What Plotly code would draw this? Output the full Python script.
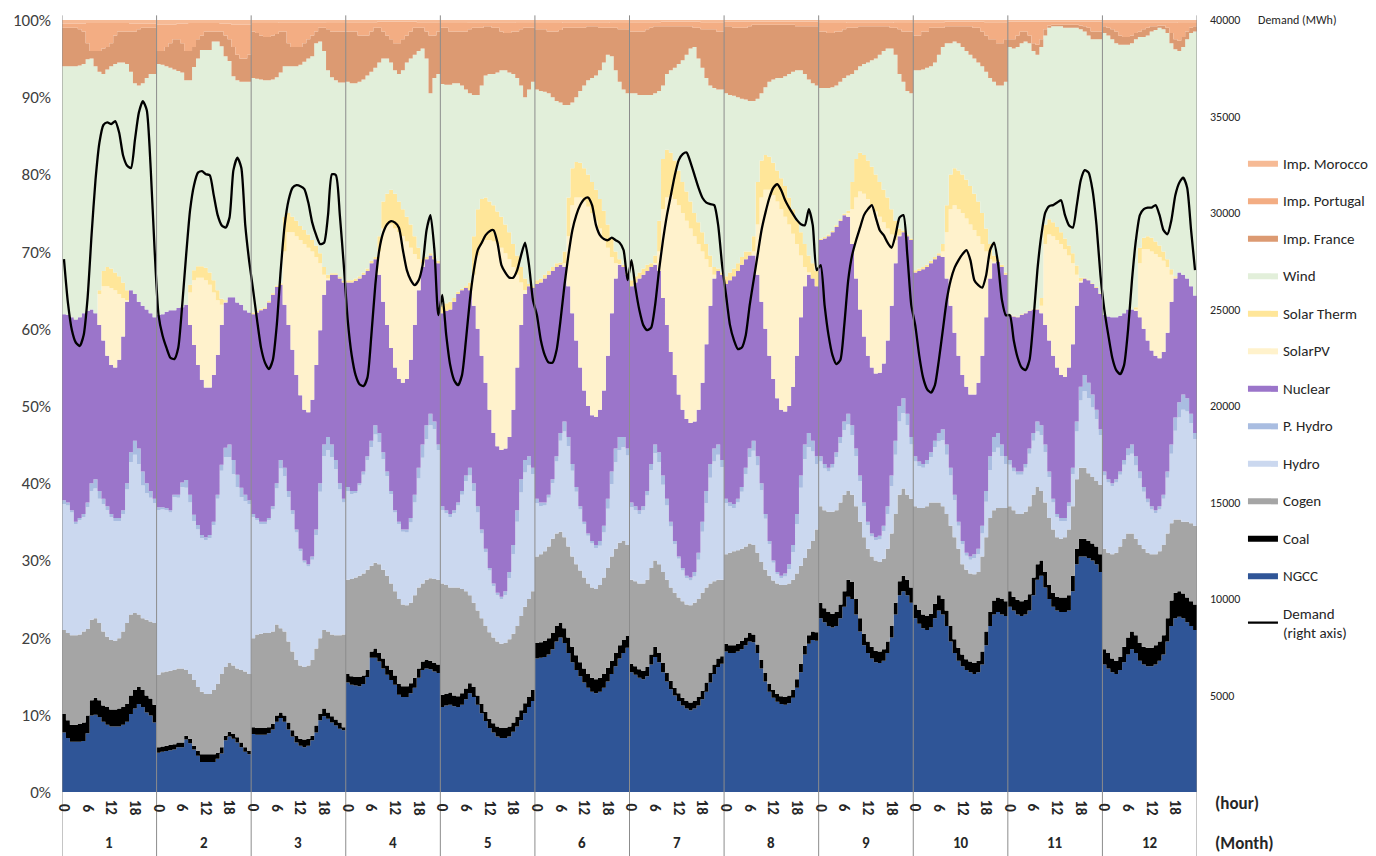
import numpy as np
import plotly.graph_objects as go

months = list(range(1, 13))
hours = list(range(24))
hour_ticks = [0, 6, 12, 18]
pct_ticks = list(range(0, 101, 10))
demand_ticks = list(range(5000, 40001, 5000))

# cumulative tops (% of generation), one list of 24 hours per month
ngcc_top = [
 [7.7,7.0,6.5,6.5,6.5,6.6,7.6,9.9,10.0,9.7,9.1,8.7,8.5,8.5,8.5,8.7,9.1,10.1,10.8,11.4,11.0,10.3,9.9,9.0],
 [5.1,5.2,5.3,5.4,5.5,5.8,5.8,6.8,6.3,5.5,4.7,3.9,3.9,3.9,3.9,4.3,5.0,6.7,7.2,6.9,6.4,5.8,5.2,4.9],
 [7.5,7.4,7.4,7.4,7.6,8.1,9.1,9.6,9.1,8.1,7.2,6.4,6.0,5.8,6.0,6.7,7.7,9.3,9.8,9.5,9.0,8.6,8.2,8.0],
 [14.2,13.9,13.8,13.7,14.0,14.9,17.4,17.4,16.9,16.0,15.2,14.5,13.9,12.6,12.3,12.3,12.8,13.5,14.8,15.8,16.0,15.9,15.6,15.4],
 [11.0,11.2,11.3,11.1,11.0,11.3,12.0,12.8,12.3,11.3,10.2,9.2,8.3,7.7,7.2,7.0,7.0,7.2,7.8,8.5,9.3,10.2,11.0,11.8],
 [17.3,17.4,17.5,17.8,18.5,19.5,20.0,19.3,18.0,16.8,15.8,15.0,14.2,13.5,13.0,12.8,13.0,13.5,14.3,15.3,16.3,17.3,18.0,18.7],
 [15.5,15.2,14.8,14.6,15.0,16.5,17.5,16.8,15.5,14.3,13.3,12.5,11.8,11.2,10.8,10.6,10.8,11.2,12.0,13.0,14.2,15.3,16.2,16.6],
 [18.2,18.0,18.0,18.2,18.5,19.0,19.5,19.4,18.0,16.0,14.3,13.0,12.2,11.7,11.4,11.3,11.5,12.2,13.5,15.5,17.8,19.2,19.7,19.6],
 [22.5,22.0,21.5,21.3,21.5,22.5,24.0,25.3,25.0,23.0,20.8,19.0,18.0,17.3,16.8,16.7,17.0,18.0,20.0,23.0,25.5,26.0,25.5,24.5],
 [22.5,21.8,21.2,21.0,21.3,22.5,23.5,23.0,21.5,19.5,18.0,17.0,16.3,15.8,15.5,15.3,15.5,16.5,19.0,21.5,23.0,23.3,23.0,22.8],
 [24.0,23.5,23.0,22.8,23.0,23.5,25.5,27.5,28.0,26.5,25.0,24.0,23.5,23.3,23.3,23.5,26.0,29.5,30.5,30.5,30.3,30.0,29.5,28.5],
 [16.5,16.0,15.5,15.3,15.8,16.8,17.8,18.5,18.0,17.0,16.5,16.3,16.3,16.5,17.0,17.8,19.5,21.5,22.5,22.7,22.5,22.0,21.5,21.0],
]
coal_top = [
 [10.1,9.3,8.7,8.7,8.8,9.0,9.9,11.9,12.2,11.9,11.2,11.0,10.7,10.7,10.8,11.0,11.4,12.5,13.2,13.6,13.2,12.5,12.1,11.3],
 [5.8,5.9,6.0,6.1,6.2,6.4,6.4,7.3,6.9,6.0,5.3,4.9,4.9,4.9,4.9,5.1,5.8,7.3,7.8,7.5,7.1,6.4,5.8,5.3],
 [8.4,8.3,8.3,8.3,8.4,8.8,9.9,10.3,9.9,9.0,8.0,7.3,6.9,6.8,6.9,7.3,8.6,10.1,10.8,10.3,9.8,9.4,9.0,8.4],
 [15.3,15.0,14.9,14.9,15.1,15.8,18.2,18.6,18.0,17.3,16.4,15.8,15.1,14.0,13.7,13.7,14.1,14.8,16.0,16.9,17.1,17.0,16.7,16.5],
 [12.6,12.7,12.9,12.5,12.4,12.8,13.4,14.1,13.6,12.5,11.4,10.4,9.5,8.9,8.5,8.3,8.3,8.5,9.0,9.7,10.6,11.5,12.3,13.2],
 [19.3,19.4,19.6,19.9,20.6,21.5,21.9,21.2,20.0,18.8,17.7,16.8,16.0,15.3,14.8,14.6,14.8,15.3,16.1,17.0,18.0,19.0,19.7,20.2],
 [16.6,16.3,15.9,15.7,16.2,17.8,18.8,18.0,16.7,15.4,14.4,13.5,12.8,12.2,11.8,11.6,11.8,12.3,13.1,14.2,15.4,16.5,17.3,17.6],
 [19.2,19.0,19.0,19.2,19.6,20.0,20.6,20.4,19.1,17.1,15.4,14.0,13.2,12.7,12.4,12.3,12.5,13.2,14.6,16.6,18.9,20.3,20.8,20.7],
 [24.5,23.8,23.3,23.1,23.3,24.3,26.0,27.5,27.2,25.0,22.5,20.5,19.5,18.8,18.3,18.2,18.5,19.5,21.5,24.5,27.3,28.0,27.5,26.5],
 [24.3,23.6,23.0,22.8,23.1,24.4,25.5,25.0,23.5,21.5,19.8,18.7,17.8,17.2,16.9,16.7,17.0,18.2,20.8,23.3,24.8,25.2,25.0,24.7],
 [26.0,25.3,24.9,24.7,24.9,25.6,27.8,29.5,30.0,28.5,26.8,25.8,25.3,25.2,25.2,25.5,28.0,31.5,32.8,32.8,32.5,32.2,31.8,30.8],
 [18.5,18.0,17.3,17.0,17.5,18.8,20.0,20.8,20.3,19.3,18.8,18.7,18.7,19.0,19.5,20.3,22.5,24.8,25.8,26.0,25.7,25.2,24.7,24.3],
]
cogen_top = [
 [21.0,20.6,20.3,20.3,20.4,20.8,21.1,22.3,22.5,21.9,20.8,20.1,19.7,19.6,19.9,20.8,21.9,23.0,23.2,23.0,22.5,22.3,22.1,21.9],
 [15.2,15.5,15.6,15.7,15.8,16.0,16.0,15.8,15.3,14.5,13.6,13.0,12.7,12.7,13.2,14.0,15.3,16.2,16.7,16.4,16.0,15.8,15.6,15.3],
 [19.9,20.4,20.5,20.6,20.6,20.8,21.7,21.2,20.8,19.5,18.2,17.1,16.4,16.2,16.4,17.1,18.6,19.9,21.0,20.8,20.4,20.3,20.3,20.4],
 [27.5,27.6,27.8,28.0,28.3,28.8,29.3,29.7,29.5,28.8,28.0,27.0,26.0,25.0,24.3,24.2,24.5,25.5,26.5,27.0,27.5,27.7,27.6,27.5],
 [27.0,26.8,26.5,26.5,26.5,26.3,26.0,25.5,24.5,23.5,22.5,21.5,20.7,20.0,19.5,19.2,19.3,19.8,20.5,21.5,22.8,24.0,25.0,26.0],
 [30.5,30.8,31.2,31.8,32.8,33.5,33.7,33.0,31.8,30.5,29.5,28.7,27.8,27.0,26.5,26.3,26.8,27.8,29.0,30.5,31.5,32.3,32.5,32.0],
 [27.5,27.3,27.0,27.0,27.5,29.0,30.0,29.5,28.5,27.5,26.5,25.8,25.2,24.7,24.3,24.2,24.5,25.0,25.8,26.5,27.0,27.3,27.5,27.5],
 [30.8,31.0,31.2,31.3,31.5,31.8,32.2,32.0,31.0,29.8,28.8,28.0,27.4,27.0,26.8,26.8,27.0,27.5,28.3,29.3,30.3,31.5,32.5,34.0],
 [37.0,36.5,36.3,36.3,36.5,37.5,38.5,39.0,38.5,37.0,35.0,33.0,31.5,30.5,30.0,29.8,30.2,31.5,33.5,36.0,38.5,39.3,38.5,38.0],
 [37.0,36.8,36.8,37.0,37.5,37.5,37.5,37.0,36.0,34.5,33.0,31.5,29.5,28.8,28.3,28.2,28.5,30.5,33.0,35.5,36.5,36.8,36.8,36.8],
 [37.0,36.5,36.0,36.0,36.3,37.0,38.5,39.5,39.0,37.5,35.5,34.0,33.0,32.8,33.0,34.0,37.0,40.5,42.0,42.0,41.3,40.8,40.3,39.8],
 [31.5,31.0,30.8,31.0,31.8,32.8,33.5,33.5,32.8,32.0,31.5,31.0,30.8,30.8,31.2,32.0,33.5,34.8,35.3,35.3,35.0,35.0,34.8,34.5],
]
phydro_top = [
 [37.8,37.5,36.5,35.0,35.5,36.0,37.5,40.0,40.5,39.0,38.0,37.0,36.0,35.5,35.5,36.5,40.0,44.0,45.5,44.5,41.5,40.0,39.0,38.0],
 [36.9,36.9,36.8,36.5,38.5,38.5,40.1,40.4,38.5,35.9,34.6,33.3,33.0,33.3,35.0,38.5,42.4,44.6,45.0,43.0,41.1,39.4,38.5,37.8],
 [36.0,35.5,35.0,35.0,35.5,37.0,40.0,43.0,42.0,39.0,36.5,34.0,31.5,30.0,29.5,30.5,34.0,40.0,45.0,46.0,45.0,43.0,40.0,38.0],
 [39.5,39.0,39.0,40.0,41.5,43.5,45.5,47.5,46.5,44.0,41.5,39.0,36.5,35.0,34.0,34.0,35.5,38.5,42.0,45.0,47.5,49.0,48.0,45.0],
 [37.0,36.5,36.0,36.5,37.5,39.0,41.0,42.0,40.0,37.0,34.0,31.5,29.0,27.0,25.8,25.3,26.0,28.5,32.0,36.5,40.5,43.0,43.5,42.0],
 [38.0,37.5,37.5,38.5,40.5,43.5,46.5,48.0,46.0,42.5,39.5,37.0,35.0,33.5,32.5,32.0,32.5,34.5,38.0,41.5,44.5,46.0,46.0,44.5],
 [37.5,37.0,36.5,37.0,39.0,42.5,45.0,44.0,41.0,38.0,35.0,32.5,30.5,29.0,28.0,27.8,28.5,31.0,35.0,39.0,42.5,44.5,45.0,43.0],
 [38.0,37.5,37.3,38.0,39.5,42.0,44.5,45.5,43.5,40.0,36.0,32.5,30.0,28.5,28.0,28.3,29.5,32.0,36.0,41.0,45.0,46.5,45.5,43.5],
 [43.5,42.5,42.0,42.5,44.0,46.0,48.0,49.0,47.5,44.5,41.0,37.5,35.0,33.5,33.0,33.2,34.5,37.0,41.0,45.5,50.0,51.0,49.0,46.0],
 [43.5,42.8,42.5,43.0,44.0,45.5,46.5,47.0,45.0,42.0,38.5,35.0,32.5,31.0,30.5,30.8,31.5,34.5,39.0,43.5,46.0,46.5,45.0,43.5],
 [43.0,42.0,41.5,41.5,42.5,44.5,46.5,48.0,47.5,45.0,41.5,38.0,36.0,35.5,35.5,37.5,42.0,48.0,52.5,54.0,53.0,51.5,49.5,47.0],
 [41.5,40.5,40.0,40.5,41.5,43.0,44.5,45.0,43.5,41.5,39.5,38.0,37.0,36.5,37.0,38.5,41.5,45.0,48.5,50.5,51.5,51.0,49.0,46.5],
]
# P. Hydro share (percentage points) sitting on top of Hydro
phydro_share = [
 [0.5,0.4,0.3,0.3,0.3,0.4,0.6,1.0,1.2,1.0,0.7,0.5,0.4,0.4,0.4,0.5,0.8,1.3,1.8,2.0,1.8,1.3,0.9,0.6],
 [0.4,0.3,0.3,0.3,0.3,0.4,0.6,1.0,1.0,0.8,0.6,0.4,0.4,0.4,0.4,0.5,0.8,1.2,1.6,1.8,1.6,1.2,0.8,0.5],
 [0.4,0.3,0.3,0.3,0.3,0.4,0.7,1.1,1.1,0.8,0.5,0.4,0.3,0.3,0.3,0.4,0.7,1.1,1.5,1.7,1.6,1.2,0.8,0.5],
 [0.5,0.4,0.3,0.3,0.4,0.5,0.8,1.2,1.2,0.9,0.6,0.4,0.3,0.3,0.3,0.4,0.6,1.0,1.4,1.7,1.8,1.5,1.0,0.7],
 [0.5,0.4,0.4,0.4,0.4,0.5,0.7,1.0,1.0,0.8,0.5,0.4,0.3,0.3,0.3,0.3,0.5,0.8,1.2,1.5,1.7,1.6,1.2,0.8],
 [0.6,0.5,0.4,0.4,0.5,0.7,1.0,1.3,1.2,0.9,0.6,0.4,0.3,0.3,0.3,0.4,0.6,0.9,1.3,1.6,1.8,1.7,1.3,0.9],
 [0.6,0.5,0.5,0.5,0.6,0.8,1.1,1.3,1.2,0.9,0.6,0.4,0.3,0.3,0.3,0.4,0.6,0.9,1.3,1.6,1.8,1.7,1.3,0.9],
 [0.6,0.5,0.5,0.5,0.6,0.8,1.1,1.3,1.2,0.9,0.6,0.4,0.3,0.3,0.3,0.4,0.6,0.9,1.3,1.6,1.9,1.8,1.4,1.0],
 [0.7,0.6,0.5,0.5,0.6,0.8,1.1,1.4,1.3,1.0,0.7,0.5,0.4,0.4,0.4,0.5,0.7,1.0,1.4,1.8,2.0,1.9,1.5,1.0],
 [0.7,0.6,0.5,0.5,0.6,0.8,1.1,1.4,1.3,1.0,0.7,0.5,0.4,0.4,0.4,0.5,0.7,1.0,1.4,1.8,2.0,1.9,1.5,1.0],
 [0.6,0.5,0.4,0.4,0.5,0.7,1.0,1.3,1.3,1.0,0.7,0.5,0.4,0.4,0.4,0.5,0.8,1.3,1.8,2.1,2.0,1.7,1.2,0.8],
 [0.5,0.4,0.4,0.4,0.4,0.6,0.9,1.2,1.2,0.9,0.6,0.5,0.4,0.4,0.4,0.5,0.8,1.2,1.7,2.0,2.0,1.7,1.2,0.8],
]
nuclear_top = [
 [61.9,61.8,61.5,61.2,61.5,62.0,62.3,62.5,62.0,60.5,58.5,56.5,55.3,55.0,56.0,59.0,63.5,65.0,64.5,63.5,63.0,62.5,62.0,61.5],
 [61.8,61.9,62.2,62.4,62.4,62.7,62.8,63.1,60.5,57.9,55.3,53.4,52.4,52.4,54.0,56.6,60.5,63.4,64.1,64.1,63.4,63.1,62.4,62.1],
 [61.9,62.1,62.4,62.6,63.4,64.4,65.4,65.7,63.1,60.5,57.3,54.0,51.4,49.5,49.2,50.8,55.3,59.8,64.4,66.3,67.0,67.0,66.5,66.0],
 [66.0,66.0,66.2,66.5,67.0,67.5,68.5,69.0,67.0,63.5,60.5,57.5,55.0,53.5,53.0,53.5,56.0,60.5,65.0,68.0,69.0,69.5,69.0,68.5],
 [62.0,62.3,62.5,63.5,64.5,65.0,65.3,65.0,63.0,60.0,56.5,53.0,49.5,46.5,44.8,44.3,44.5,46.0,49.5,55.0,60.5,64.5,65.5,65.3],
 [65.8,66.0,66.5,67.0,67.5,68.0,68.3,68.0,65.5,62.0,58.5,55.0,52.0,50.0,48.8,48.6,49.5,52.0,56.5,62.0,66.5,68.3,68.0,67.0],
 [65.5,66.0,66.5,67.0,67.5,68.0,68.3,67.5,64.0,60.5,57.0,54.0,51.5,49.5,48.3,47.8,48.0,49.5,53.0,58.0,63.0,66.5,67.5,67.0],
 [65.8,66.3,66.8,67.5,68.3,69.0,69.5,69.5,67.0,63.5,60.0,56.5,53.5,51.0,49.5,49.3,50.0,52.5,56.5,61.5,65.5,67.0,66.5,65.5],
 [71.5,71.7,72.0,72.5,73.2,74.0,74.7,74.5,71.0,66.5,62.5,59.0,56.5,55.0,54.2,54.3,55.5,58.5,63.0,68.5,72.0,72.5,72.0,71.5],
 [67.3,67.5,67.7,68.0,68.5,69.0,69.5,69.3,66.5,63.0,59.5,56.5,54.0,52.5,51.5,51.5,53.0,56.5,61.5,66.5,68.5,68.7,68.0,67.0],
 [61.8,61.6,61.5,61.8,62.0,62.3,62.5,62.5,62.0,60.5,58.5,56.5,55.0,54.0,53.8,55.0,58.0,63.0,66.0,66.5,66.3,65.8,65.3,64.5],
 [61.8,61.6,61.5,61.5,61.7,62.0,62.5,62.5,62.3,61.5,60.0,58.5,57.2,56.5,56.2,57.0,59.5,63.5,66.5,67.3,67.0,66.5,65.5,64.3],
]
# solar shares (percentage points)
pv_share = [
 [0,0,0,0,0,0,0,0,0,4.0,7.0,9.0,10.0,10.0,8.5,5.0,0.2,0,0,0,0,0,0,0],
 [0,0,0,0,0,0,0,0,4.2,8.4,11.3,13.2,13.9,13.3,10.7,7.1,2.6,0.1,0,0,0,0,0,0],
 [0,0,0,0,0,0,0,0,6.9,12.0,15.2,18.0,20.1,21.5,21.3,19.2,14.0,8.7,2.6,0.2,0,0,0,0],
 [0,0,0,0,0,0,0,0,3.0,9.5,13.0,16.0,18.0,19.0,19.0,17.8,14.5,9.2,4.0,0.5,0,0,0,0],
 [0,0,0,0,0,0,0,0,4.0,9.5,14.5,18.5,22.0,24.8,26.2,26.2,25.3,23.0,18.5,12.0,5.5,0.5,0,0],
 [0,0,0,0,0,0,0,0.5,6.5,14.0,18.5,22.0,24.5,25.8,26.2,25.4,23.5,19.8,14.0,7.3,2.0,0.1,0,0],
 [0,0,0,0,0,0,0.2,2.5,11.5,16.5,20.3,22.8,24.5,25.5,25.7,25.2,24.0,21.5,17.0,11.0,5.0,0.5,0,0],
 [0,0,0,0,0,0,0,0.5,6.5,13.5,18.0,21.5,23.8,25.5,26.0,25.2,23.5,19.8,14.5,8.0,2.5,0.3,0,0],
 [0,0,0,0,0,0,0,0.5,4.5,10.5,15.3,18.5,20.3,21.0,21.0,20.2,18.3,14.5,9.2,3.0,0.1,0,0,0],
 [0,0,0,0,0,0,0,0.7,6.0,12.5,16.5,19.0,21.0,21.8,22.0,21.3,19.0,14.5,8.5,2.5,0.2,0,0,0],
 [0,0,0,0,0,0,0,0,1.0,10.5,13.7,15.5,16.5,17.0,16.5,14.5,10.5,4.0,0.2,0,0,0,0,0],
 [0,0,0,0,0,0,0,0,0.2,7.0,10.3,11.8,12.8,13.2,13.1,11.8,8.5,3.5,0.1,0,0,0,0,0],
]
st_share = [
 [0,0,0,0,0,0,0,0,0,0.5,2.0,2.5,2.5,2.3,2.3,2.0,1.3,0,0,0,0,0,0,0],
 [0,0,0,0,0,0,0,0,1.0,1.3,1.5,1.5,1.6,1.6,1.6,1.3,0.8,0.2,0,0,0,0,0,0],
 [0.2,0.2,0.2,0.2,0.2,0.2,0.2,0.2,4.5,2.5,2.0,2.0,1.8,1.8,1.7,1.5,1.5,1.3,1.0,0.5,0.2,0.2,0.2,0.2],
 [0.3,0.3,0.3,0.3,0.3,0.3,0.3,0.3,2.0,3.5,4.0,4.5,4.5,4.0,3.5,3.2,3.0,2.3,1.5,0.5,0.3,0.3,0.3,0.3],
 [1.0,1.0,1.0,0.5,0.3,0.2,0.2,1.0,5.0,6.0,5.8,5.5,5.0,4.7,4.2,4.0,3.7,3.5,3.0,2.5,2.0,1.5,0.3,0.2],
 [0.5,0.5,0.5,0.5,0.5,0.5,0.3,1.5,5.0,4.8,4.6,4.5,4.3,4.2,4.0,4.0,3.8,3.5,3.0,2.5,1.5,0.6,0.3,0.3],
 [0.8,0.8,0.8,0.8,0.8,0.5,1.0,4.0,6.5,6.2,5.5,5.0,4.5,4.0,3.8,3.5,3.0,2.8,2.5,2.0,1.5,1.0,0.3,0.3],
 [1.0,1.0,1.0,1.0,1.0,1.0,0.5,2.0,5.5,4.8,4.5,4.3,4.2,4.0,4.0,4.0,3.5,3.2,3.0,3.0,3.0,2.2,2.0,2.0],
 [0.2,0.2,0.2,0.2,0.2,0.2,0.2,0.3,3.5,5.0,5.0,5.0,5.0,5.0,4.8,4.5,4.2,4.0,3.3,2.5,0.9,0.2,0.2,0.2],
 [0.3,0.3,0.3,0.3,0.3,0.3,0.3,1.0,3.5,4.5,4.8,5.0,5.0,5.0,5.0,4.7,4.5,4.0,3.0,2.0,0.8,0.3,0.3,0.3],
 [0.1,0.1,0.1,0.1,0.1,0.1,0.1,0.1,1.0,2.5,2.0,1.8,1.7,1.5,1.4,1.3,1.3,1.2,0.4,0.1,0.1,0.1,0.1,0.1],
 [0,0,0,0,0,0,0,0,0.3,2.0,1.5,1.7,1.8,1.6,1.5,1.2,1.0,0.7,0.2,0,0,0,0,0],
]
wind_top = [
 [94.0,94.0,94.0,94.0,94.1,94.3,94.9,95.0,94.0,93.3,93.0,93.6,94.0,94.3,94.5,94.5,94.3,93.3,91.8,91.5,91.8,92.5,93.0,93.0],
 [94.3,94.2,94.0,93.8,93.6,93.4,93.2,92.2,92.2,93.9,95.0,96.1,96.1,96.1,97.2,97.2,96.6,95.3,94.7,92.7,92.2,92.0,92.0,92.0],
 [92.5,92.4,92.3,92.2,92.2,92.3,92.6,93.2,94.0,94.0,94.0,94.0,94.2,94.6,95.0,95.3,97.0,97.2,96.0,93.5,92.6,92.2,91.9,91.9],
 [92.0,91.8,91.8,92.0,92.3,92.8,93.3,93.8,94.5,95.0,95.0,94.5,93.5,93.0,93.5,94.5,95.0,95.5,96.0,96.3,95.0,90.5,92.5,93.0],
 [91.7,91.6,91.6,91.8,91.8,91.5,91.0,90.5,90.3,90.3,91.5,92.8,93.0,93.0,93.2,93.5,93.5,93.2,93.0,92.5,91.5,90.0,91.0,92.0],
 [91.0,90.8,90.7,90.5,90.0,89.5,89.3,89.0,89.0,89.3,90.0,90.8,91.5,92.2,92.5,92.8,93.5,94.5,95.5,95.3,93.5,92.0,91.0,90.5],
 [90.5,90.5,90.3,90.3,90.3,90.3,90.5,90.8,91.5,93.0,93.5,93.8,94.3,94.8,95.5,96.3,96.5,95.0,93.8,92.5,91.5,91.2,91.0,91.0],
 [90.5,90.3,90.2,90.0,89.8,89.7,89.5,89.5,89.8,90.5,91.3,92.0,92.3,92.5,92.5,92.7,93.0,93.3,93.5,93.5,93.0,92.3,91.8,91.5],
 [91.2,91.2,91.2,91.3,91.5,92.0,92.5,92.8,93.0,93.5,94.0,94.3,94.5,94.8,95.0,95.5,96.0,96.3,96.3,95.5,93.0,92.0,90.8,90.5],
 [93.5,93.5,93.6,93.8,94.0,94.5,95.5,96.5,97.0,97.0,97.2,97.0,96.5,96.0,95.5,95.0,94.5,94.0,93.3,92.5,92.0,91.5,91.5,92.0],
 [96.5,96.3,96.5,97.0,97.2,97.0,96.0,95.5,96.5,98.0,99.0,99.2,99.2,99.2,99.0,99.0,99.0,99.0,98.8,98.5,98.0,97.5,97.5,97.5],
 [98.3,98.0,97.5,97.0,96.8,96.8,96.8,97.0,97.5,97.8,97.8,98.0,98.5,98.7,99.0,98.8,98.3,97.0,96.2,96.0,96.5,97.5,98.3,98.5],
]
france_top = [
 [99.0,99.0,99.0,99.0,98.8,98.5,97.0,96.0,96.0,96.0,96.3,96.5,97.0,98.0,98.5,98.5,98.5,98.5,98.5,98.8,99.0,99.0,99.0,99.0],
 [96.0,96.0,96.5,97.0,97.5,97.5,97.0,96.0,96.0,96.5,97.5,98.0,98.5,98.5,98.5,98.5,98.5,98.0,97.5,96.5,95.5,95.0,95.0,95.5],
 [98.5,98.3,98.0,97.8,97.8,98.0,98.2,98.5,98.5,97.0,96.5,96.5,96.5,97.0,97.5,98.0,98.5,99.0,99.0,98.8,98.5,98.5,98.5,98.5],
 [98.5,98.5,98.5,98.0,98.0,98.0,98.5,99.0,99.0,98.5,98.0,97.5,97.0,97.0,97.5,98.0,98.5,99.0,99.0,99.0,98.5,98.0,98.0,98.5],
 [99.0,99.0,98.5,98.5,98.5,98.5,98.5,98.8,99.0,99.0,99.0,99.2,99.2,99.0,99.0,98.5,98.3,98.3,98.5,98.5,98.8,99.0,99.0,99.0],
 [98.8,98.8,98.8,98.5,98.5,98.5,98.7,99.0,99.0,99.0,99.0,99.0,99.0,99.2,99.2,99.2,99.0,99.0,99.0,99.0,99.0,98.8,98.8,98.8],
 [98.5,98.5,98.5,98.5,98.8,99.0,99.2,99.2,99.2,99.2,99.2,99.2,99.2,99.2,99.2,99.2,99.0,99.0,98.8,98.8,98.8,98.8,98.5,98.5],
 [99.2,99.2,99.0,99.0,99.0,99.0,99.2,99.4,99.4,99.4,99.4,99.4,99.4,99.4,99.4,99.4,99.4,99.4,99.2,99.2,99.2,99.2,99.2,99.2],
 [98.5,98.5,98.3,98.3,98.5,98.5,98.8,99.0,99.0,99.0,99.2,99.2,99.2,99.2,99.2,99.2,99.2,99.2,99.0,99.0,98.8,98.5,98.5,98.5],
 [98.0,98.0,98.5,98.5,99.0,99.0,99.0,99.0,99.2,99.2,99.2,99.2,99.2,99.2,99.2,99.0,99.0,98.5,98.0,97.5,97.5,97.0,97.0,97.5],
 [97.5,97.5,98.0,98.5,98.5,98.0,97.0,96.8,97.5,98.8,99.3,99.4,99.4,99.4,99.4,99.4,99.4,99.4,99.3,99.2,99.0,98.5,98.5,98.5],
 [99.2,99.0,98.8,98.5,98.0,97.8,97.8,98.0,98.3,98.5,98.8,99.0,99.2,99.2,99.3,99.3,99.0,98.3,97.5,97.3,97.8,98.5,99.0,99.2],
]
portugal_top = [
 [99.5,99.5,99.5,99.5,99.5,99.5,99.6,99.6,99.6,99.6,99.6,99.6,99.6,99.6,99.6,99.6,99.6,99.5,99.5,99.5,99.5,99.5,99.5,99.5],
 [99.4,99.4,99.4,99.4,99.4,99.5,99.5,99.5,99.6,99.6,99.6,99.6,99.6,99.6,99.6,99.6,99.5,99.5,99.5,99.4,99.4,99.4,99.4,99.4],
 [99.6,99.6,99.6,99.6,99.6,99.6,99.6,99.7,99.7,99.7,99.7,99.7,99.7,99.7,99.7,99.7,99.7,99.7,99.7,99.6,99.6,99.6,99.6,99.6],
 [99.7,99.7,99.7,99.7,99.7,99.7,99.7,99.7,99.8,99.8,99.8,99.8,99.8,99.8,99.8,99.8,99.8,99.8,99.7,99.7,99.7,99.7,99.7,99.7],
 [99.6,99.6,99.6,99.6,99.6,99.6,99.6,99.7,99.7,99.7,99.7,99.7,99.7,99.7,99.7,99.7,99.7,99.7,99.7,99.6,99.6,99.6,99.6,99.6],
 [99.6,99.6,99.6,99.6,99.6,99.6,99.6,99.7,99.7,99.7,99.7,99.7,99.7,99.7,99.7,99.7,99.7,99.7,99.7,99.6,99.6,99.6,99.6,99.6],
 [99.7,99.7,99.7,99.7,99.7,99.7,99.7,99.7,99.8,99.8,99.8,99.8,99.8,99.8,99.8,99.8,99.8,99.8,99.7,99.7,99.7,99.7,99.7,99.7],
 [99.8,99.8,99.8,99.8,99.8,99.8,99.8,99.8,99.8,99.8,99.8,99.8,99.8,99.8,99.8,99.8,99.8,99.8,99.8,99.8,99.8,99.8,99.8,99.8],
 [99.6,99.6,99.6,99.6,99.6,99.6,99.6,99.7,99.7,99.7,99.7,99.7,99.7,99.7,99.7,99.7,99.7,99.7,99.7,99.6,99.6,99.6,99.6,99.6],
 [99.7,99.7,99.7,99.7,99.7,99.7,99.7,99.7,99.8,99.8,99.8,99.8,99.8,99.8,99.8,99.8,99.8,99.8,99.7,99.7,99.7,99.7,99.7,99.7],
 [99.8,99.8,99.8,99.8,99.8,99.8,99.8,99.8,99.8,99.8,99.8,99.8,99.8,99.8,99.8,99.8,99.8,99.8,99.8,99.8,99.8,99.8,99.8,99.8],
 [99.6,99.6,99.6,99.6,99.6,99.6,99.6,99.7,99.7,99.7,99.7,99.7,99.7,99.7,99.7,99.7,99.7,99.7,99.7,99.6,99.6,99.6,99.6,99.6],
]
demand_mwh = [
 [27615,25360,23940,23290,23110,23680,25620,28860,31710,33650,34560,34690,34610,34760,34170,32980,32460,32330,33780,35200,35800,35340,32330,28080],
 [24710,23670,23020,22500,22430,23020,25230,27820,30150,31440,32090,32170,32010,31960,30925,29890,29370,29240,29760,32220,32870,32350,29370,27500],
 [26000,24450,23025,22250,21910,22380,24190,27040,29370,30670,31310,31440,31390,31240,30540,29500,28850,28390,28460,29890,32010,31960,29890,27300],
 [24450,22640,21600,21130,21030,21470,23670,26260,28080,28980,29420,29580,29500,29240,28080,27040,26520,26260,26520,27300,29110,29890,28080,24710],
 [25750,23670,22120,21340,21080,21600,23410,25490,27040,28080,28460,28850,29060,29110,28460,27300,26910,26650,26650,27040,27820,28460,27300,25490],
 [24710,23410,22640,22250,22250,22900,24450,26260,27820,29110,29890,30410,30720,30800,30410,29370,28850,28650,28590,28720,28590,28460,28080,26520],
 [27560,26130,24970,24190,23930,24060,25230,27040,28590,29890,30920,31960,32740,33050,33130,32610,31960,31310,30790,30540,30460,30410,29370,27300],
 [25750,24190,23410,22950,23030,23670,25230,26520,27820,29110,30020,30790,31310,31490,31180,30660,30280,29940,29630,29420,29370,30200,29370,27040],
 [27300,25230,23670,22640,22170,22380,24190,26520,27820,28590,29240,29890,30200,30410,29760,29110,28850,28460,28200,28850,29760,29890,27820,25230],
 [24190,22640,21470,20880,20690,21080,22380,23930,25490,26520,27170,27560,27870,28080,27560,26520,26260,26130,26780,28080,28460,27400,25500,24700],
 [24710,23410,22500,21990,21860,22380,24450,27040,28850,30020,30360,30410,30540,30660,29890,29370,29240,30410,31700,32220,32090,31180,29370,26780],
 [24970,23670,22500,21860,21650,22120,23930,26520,28590,29890,30200,30280,30280,30410,29890,29110,28900,29630,30920,31570,31830,31310,29110,27040],
]

series = ["NGCC", "Coal", "Cogen", "Hydro", "P. Hydro", "Nuclear", "SolarPV",
          "Solar Therm", "Wind", "Imp. France", "Imp. Portugal", "Imp. Morocco"]
colors = ["#2f5597", "#000000", "#a5a5a5", "#cbd8ef", "#a9bde1", "#9b75ca",
          "#fff2cc", "#ffe699", "#e2efda", "#dc9a72", "#f3ad83", "#f6ba95"]

def flat(a):
    return np.array(a, dtype=float).ravel()

n_pts = len(months) * len(hours)
ph = flat(phydro_top)
nu = flat(nuclear_top)
pv = nu + flat(pv_share)
st = pv + flat(st_share)
tops = np.vstack([flat(ngcc_top), flat(coal_top), flat(cogen_top), ph - flat(phydro_share), ph,
                  nu, pv, st, flat(wind_top), flat(france_top), flat(portugal_top),
                  np.full(n_pts, 100.0)])
tops = np.minimum(np.maximum.accumulate(tops, axis=0), 100.0)
shares = np.diff(np.vstack([np.zeros(n_pts), tops]), axis=0)

x_edges = np.arange(n_pts + 1) - 0.5
fig = go.Figure()
for k, name in enumerate(series):
    yv = np.append(shares[k], shares[k][-1])
    fig.add_trace(go.Scatter(
        x=x_edges, y=yv, name=name, mode="lines", stackgroup="gen",
        line=dict(width=0, shape="hv"), fillcolor=colors[k],
        legendgroup=name, legendrank=len(series) - k, hoverinfo="skip"))

fig.add_trace(go.Scatter(
    x=np.arange(n_pts), y=flat(demand_mwh), yaxis="y2", mode="lines",
    line=dict(color="black", width=2.3, shape="spline", smoothing=0.6),
    name="Demand<br>(right axis)", legendgroup="demand", legendrank=20, hoverinfo="skip"))

font_family = "Calibri, Carlito, Lato, sans-serif"
annotations = []
for mi, m in enumerate(months):
    for h in hour_ticks:
        annotations.append(dict(x=mi * 24 + h, y=0, xref="x", yref="paper", yshift=-16,
                                text=f"<b>{h}</b>", textangle=90, showarrow=False,
                                xanchor="center", yanchor="middle",
                                font=dict(size=15, color="#262626")))
    annotations.append(dict(x=mi * 24 + 11.5, y=0, xref="x", yref="paper", yshift=-51,
                            text=f"<b>{m}</b>", showarrow=False, xanchor="center",
                            yanchor="middle", font=dict(size=15, color="#262626")))
annotations += [
    dict(x=1.0141, y=0, xref="paper", yref="paper", yshift=-11, text="<b>(hour)</b>",
         showarrow=False, xanchor="left", yanchor="middle", font=dict(size=17, color="#262626")),
    dict(x=1.0141, y=0, xref="paper", yref="paper", yshift=-51, text="<b>(Month)</b>",
         showarrow=False, xanchor="left", yanchor="middle", font=dict(size=17, color="#262626")),
    dict(x=1.052, y=1, xref="paper", yref="paper", text="Demand (MWh)", showarrow=False,
         xanchor="left", yanchor="middle", font=dict(size=12, color="#262626")),
]

shapes = [dict(type="line", xref="x", yref="paper", x0=24 * i - 0.5, x1=24 * i - 0.5,
               y0=-0.085, y1=1.006, line=dict(color="#8c8c8c", width=1), layer="above")
          for i in range(len(months) + 1)]

# the page adds an 8 px body margin, so the figure is sized to sit inside the window
fig.update_layout(
    width=1360, height=848,
    margin=dict(l=54, r=171, t=12, b=64, autoexpand=False),
    paper_bgcolor="white", plot_bgcolor="white",
    font=dict(family=font_family, color="#262626"),
    showlegend=True,
    legend=dict(x=1.0405, y=0.836, xanchor="left", yanchor="top", font=dict(size=15),
                tracegroupgap=15, bgcolor="rgba(0,0,0,0)", itemwidth=30),
    xaxis=dict(range=[-0.5, n_pts - 0.5], showticklabels=False, showgrid=False,
               zeroline=False, ticks="", showline=False, automargin=False),
    yaxis=dict(range=[0, 100], tickvals=pct_ticks, ticktext=[f"{v}%" for v in pct_ticks],
               showgrid=False, zeroline=False, ticks="", tickfont=dict(size=17, color="#404040"),
               ticklabelstandoff=10, automargin=False),
    yaxis2=dict(range=[0, 40000], tickvals=demand_ticks, tickformat="d", overlaying="y",
                side="right", showgrid=False, zeroline=False, ticks="",
                tickfont=dict(size=12, color="#262626"), ticklabelstandoff=12, automargin=False),
    annotations=annotations, shapes=shapes,
)

fig.write_html("out.html")
